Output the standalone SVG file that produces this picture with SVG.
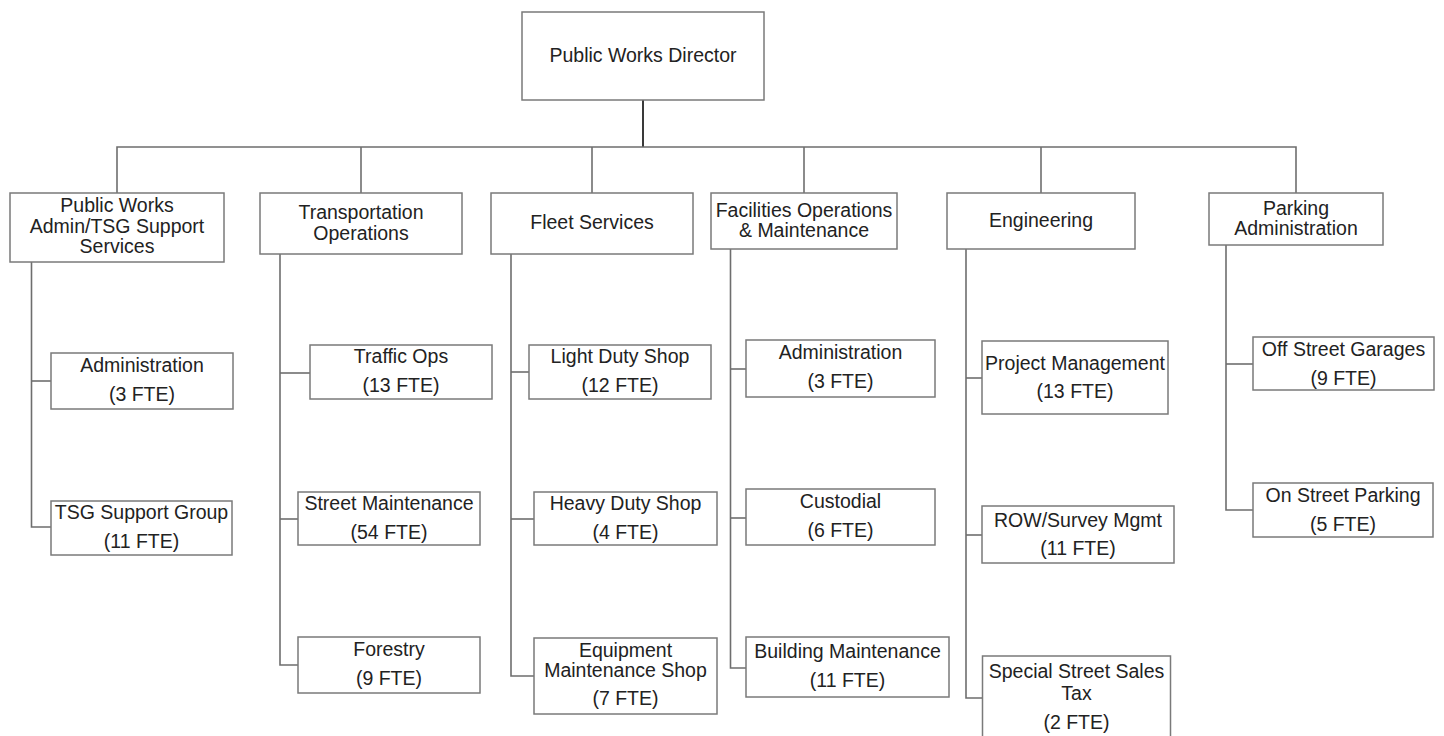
<svg xmlns="http://www.w3.org/2000/svg" width="1444" height="736" viewBox="0 0 1444 736">
  <style>
    .box { fill: #ffffff; stroke: #7a7a7a; stroke-width: 1.5; }
    .lbl { font-family: "Liberation Sans", Arial, sans-serif; font-size: 19.5px; fill: #222222; text-anchor: middle; }
    .wire { fill: none; stroke: #6e6e6e; stroke-width: 1.6; }
    .stem { fill: none; stroke: #3a3a3a; stroke-width: 2; }
  </style>
  <rect x="0" y="0" width="1444" height="736" fill="#ffffff"/>

  <!-- reporting lines -->
  <g id="connectors">
    <line class="stem" x1="643" y1="100" x2="643" y2="147"/>
    <polyline class="wire" points="117,193 117,147 1296,147 1296,193"/>
    <line class="wire" x1="361" y1="147" x2="361" y2="193"/>
    <line class="wire" x1="592" y1="147" x2="592" y2="193"/>
    <line class="wire" x1="804" y1="147" x2="804" y2="193"/>
    <line class="wire" x1="1041" y1="147" x2="1041" y2="193"/>

    <!-- Admin/TSG branch -->
    <polyline class="wire" points="31.5,262 31.5,527 51,527"/>
    <line class="wire" x1="31.5" y1="381" x2="51" y2="381"/>

    <!-- Transportation branch -->
    <polyline class="wire" points="280,254 280,665 298,665"/>
    <line class="wire" x1="280" y1="373" x2="310" y2="373"/>
    <line class="wire" x1="280" y1="519" x2="298" y2="519"/>

    <!-- Fleet branch -->
    <polyline class="wire" points="511,254 511,676 534,676"/>
    <line class="wire" x1="511" y1="372" x2="529" y2="372"/>
    <line class="wire" x1="511" y1="519" x2="534" y2="519"/>

    <!-- Facilities branch -->
    <polyline class="wire" points="730.5,249 730.5,668 746,668"/>
    <line class="wire" x1="730.5" y1="369" x2="746" y2="369"/>
    <line class="wire" x1="730.5" y1="518" x2="746" y2="518"/>

    <!-- Engineering branch -->
    <polyline class="wire" points="966,249 966,698 982.5,698"/>
    <line class="wire" x1="966" y1="378" x2="982" y2="378"/>
    <line class="wire" x1="966" y1="535" x2="982" y2="535"/>

    <!-- Parking branch -->
    <polyline class="wire" points="1226,245 1226,510 1253,510"/>
    <line class="wire" x1="1226" y1="364" x2="1253" y2="364"/>
  </g>

  <!-- top -->
  <g id="director">
    <rect class="box" x="522" y="12" width="242" height="88"/>
    <text class="lbl" x="643" y="62">Public Works Director</text>
  </g>

  <!-- divisions -->
  <g id="pw-admin">
    <rect class="box" x="10" y="193" width="214" height="69"/>
    <text class="lbl" x="117" y="212">Public Works</text>
    <text class="lbl" x="117" y="232.5">Admin/TSG Support</text>
    <text class="lbl" x="117" y="252.5">Services</text>
  </g>
  <g id="transportation">
    <rect class="box" x="260" y="193" width="202" height="61"/>
    <text class="lbl" x="361" y="219">Transportation</text>
    <text class="lbl" x="361" y="239.5">Operations</text>
  </g>
  <g id="fleet">
    <rect class="box" x="491" y="193" width="202" height="61"/>
    <text class="lbl" x="592" y="229">Fleet Services</text>
  </g>
  <g id="facilities">
    <rect class="box" x="711" y="193" width="186" height="56"/>
    <text class="lbl" x="804" y="216.5">Facilities Operations</text>
    <text class="lbl" x="804" y="236.5">&amp; Maintenance</text>
  </g>
  <g id="engineering">
    <rect class="box" x="947" y="193" width="188" height="56"/>
    <text class="lbl" x="1041" y="227">Engineering</text>
  </g>
  <g id="parking">
    <rect class="box" x="1209" y="193" width="174" height="52"/>
    <text class="lbl" x="1296" y="215">Parking</text>
    <text class="lbl" x="1296" y="235">Administration</text>
  </g>

  <!-- Admin/TSG units -->
  <g id="pw-administration">
    <rect class="box" x="51" y="353" width="182" height="56"/>
    <text class="lbl" x="142" y="371.7">Administration</text>
    <text class="lbl" x="142" y="401">(3 FTE)</text>
  </g>
  <g id="tsg-support">
    <rect class="box" x="51" y="501" width="181" height="54"/>
    <text class="lbl" x="141.5" y="519.3">TSG Support Group</text>
    <text class="lbl" x="141.5" y="547.5">(11 FTE)</text>
  </g>

  <!-- Transportation units -->
  <g id="traffic-ops">
    <rect class="box" x="310" y="345" width="182" height="54"/>
    <text class="lbl" x="401" y="363.3">Traffic Ops</text>
    <text class="lbl" x="401" y="391.5">(13 FTE)</text>
  </g>
  <g id="street-maintenance">
    <rect class="box" x="298" y="492" width="182" height="53"/>
    <text class="lbl" x="389" y="510">Street Maintenance</text>
    <text class="lbl" x="389" y="538.5">(54 FTE)</text>
  </g>
  <g id="forestry">
    <rect class="box" x="298" y="637" width="182" height="56"/>
    <text class="lbl" x="389" y="656">Forestry</text>
    <text class="lbl" x="389" y="685">(9 FTE)</text>
  </g>

  <!-- Fleet units -->
  <g id="light-duty">
    <rect class="box" x="529" y="345" width="182" height="54"/>
    <text class="lbl" x="620" y="363.3">Light Duty Shop</text>
    <text class="lbl" x="620" y="391.5">(12 FTE)</text>
  </g>
  <g id="heavy-duty">
    <rect class="box" x="534" y="492" width="183" height="53"/>
    <text class="lbl" x="625.5" y="510">Heavy Duty Shop</text>
    <text class="lbl" x="625.5" y="538.5">(4 FTE)</text>
  </g>
  <g id="equipment-maintenance">
    <rect class="box" x="534" y="638" width="183" height="76"/>
    <text class="lbl" x="625.5" y="657.3">Equipment</text>
    <text class="lbl" x="625.5" y="677.3">Maintenance Shop</text>
    <text class="lbl" x="625.5" y="705">(7 FTE)</text>
  </g>

  <!-- Facilities units -->
  <g id="facilities-administration">
    <rect class="box" x="746" y="340" width="189" height="57"/>
    <text class="lbl" x="840.5" y="359.3">Administration</text>
    <text class="lbl" x="840.5" y="388.3">(3 FTE)</text>
  </g>
  <g id="custodial">
    <rect class="box" x="746" y="489" width="189" height="56"/>
    <text class="lbl" x="840.5" y="508.3">Custodial</text>
    <text class="lbl" x="840.5" y="536.7">(6 FTE)</text>
  </g>
  <g id="building-maintenance">
    <rect class="box" x="746" y="637" width="203" height="60"/>
    <text class="lbl" x="847.5" y="658.3">Building Maintenance</text>
    <text class="lbl" x="847.5" y="686.7">(11 FTE)</text>
  </g>

  <!-- Engineering units -->
  <g id="project-management">
    <rect class="box" x="982" y="341" width="186" height="73"/>
    <text class="lbl" x="1075" y="370">Project Management</text>
    <text class="lbl" x="1075" y="398.3">(13 FTE)</text>
  </g>
  <g id="row-survey">
    <rect class="box" x="982" y="506" width="192" height="57"/>
    <text class="lbl" x="1078" y="526.7">ROW/Survey Mgmt</text>
    <text class="lbl" x="1078" y="555">(11 FTE)</text>
  </g>
  <g id="special-street-tax">
    <rect class="box" x="982.5" y="656" width="188" height="90"/>
    <text class="lbl" x="1076.5" y="678.3">Special Street Sales</text>
    <text class="lbl" x="1076.5" y="700">Tax</text>
    <text class="lbl" x="1076.5" y="729.3">(2 FTE)</text>
  </g>

  <!-- Parking units -->
  <g id="off-street">
    <rect class="box" x="1253" y="337" width="181" height="53"/>
    <text class="lbl" x="1343.5" y="356">Off Street Garages</text>
    <text class="lbl" x="1343.5" y="385">(9 FTE)</text>
  </g>
  <g id="on-street">
    <rect class="box" x="1253" y="483" width="180" height="54"/>
    <text class="lbl" x="1343" y="501.7">On Street Parking</text>
    <text class="lbl" x="1343" y="530.7">(5 FTE)</text>
  </g>
</svg>
